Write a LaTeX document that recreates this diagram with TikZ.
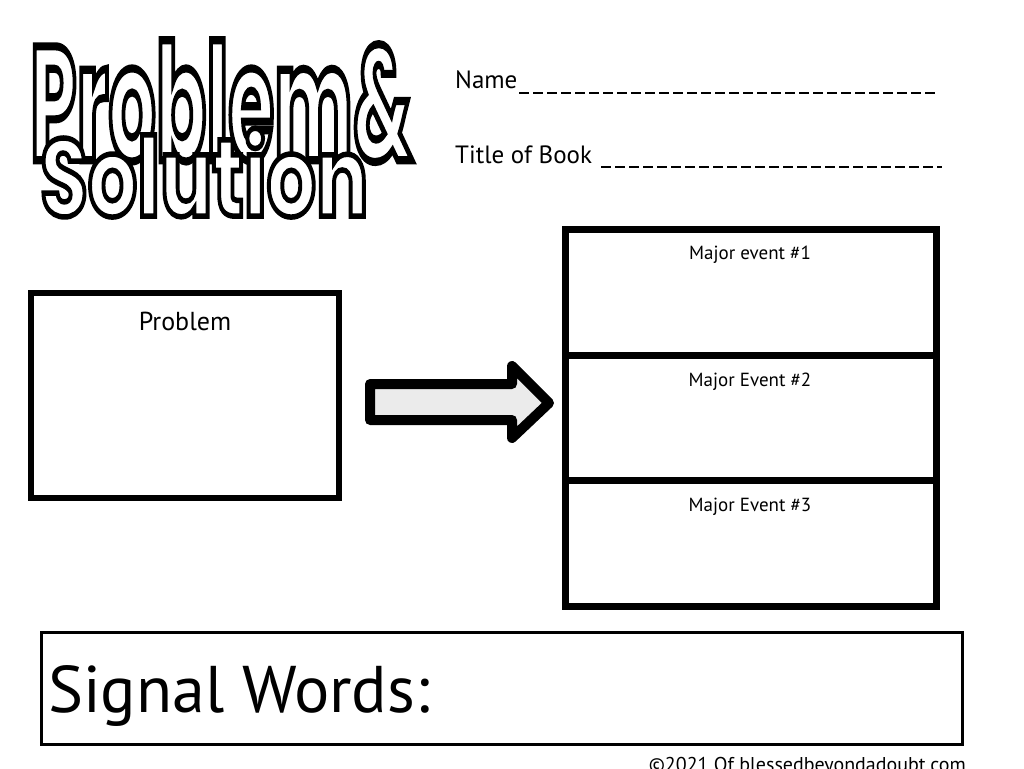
\documentclass[tikz,border=0pt]{standalone}
\usepackage{fontspec}
\setmainfont{PT Sans}
\newfontface\titlefont{Poppins}[UprightFont=* Bold, FakeBold=5]
\newcommand\outlinedtext[1]{{\color{white}\special{pdf:literal direct 0 G}#1}}
\tikzset{
  thickbox/.style={draw, line width=6pt, inner sep=0pt, outer sep=0pt, anchor=north west},
  eventbox/.style={draw, line width=7pt, inner sep=0pt, outer sep=0pt, anchor=north west, minimum width=371.5pt},
  lbl/.style={inner sep=0pt, anchor=base},
  dashline/.style={line width=2.6pt, dash pattern=on 10pt off 4pt},
}
\begin{document}
\begin{tikzpicture}[x=1pt,y=-1pt]
\useasboundingbox (0,0) rectangle (1024,768);
\clip (0,0) rectangle (1024,768);
% title
\node[inner sep=0pt, anchor=north west] (t1) at (30,40)
  {\resizebox{382pt}{120pt}{\fontsize{70}{80}\titlefont\outlinedtext{Problem\&}}};
\node[inner sep=0pt, anchor=north west] (t2) at (40,128)
  {\resizebox{328pt}{88pt}{\fontsize{70}{80}\titlefont\outlinedtext{Solution}}};
% name / title lines
\node[lbl, anchor=base west, font=\fontsize{25}{30}\selectfont] (name) at (455,88) {Name};
\coordinate (n1) at (519,93);
\coordinate (n2) at (935,93);
\draw[dashline] (n1) -- (n2);
\node[lbl, anchor=base west, font=\fontsize{25}{30}\selectfont] (book) at (455,163) {Title of Book};
\coordinate (b1) at (601,167);
\coordinate (b2) at (942,167);
\draw[dashline] (b1) -- (b2);
% problem box
\node[thickbox, minimum width=308pt, minimum height=205pt] (prob) at (31,293) {};
\node[lbl, font=\fontsize{26}{30}\selectfont] (problbl) at (185,330) {Problem};
% arrow
\draw[line width=10pt, line join=round, fill=black!8]
  (370,384) -- (512,384) -- (512,366) -- (549,403) -- (512,438) -- (512,420) -- (370,420) -- cycle;
% events
\node[eventbox, minimum height=126pt] (ev1) at (565,229) {};
\node[eventbox, minimum height=125pt] (ev2) at (565,355) {};
\node[eventbox, minimum height=126pt] (ev3) at (565,480) {};
\node[lbl, font=\fontsize{19}{23}\selectfont] (l1) at (750,259) {Major event \#1};
\node[lbl, font=\fontsize{19}{23}\selectfont] (l2) at (750,386) {Major Event \#2};
\node[lbl, font=\fontsize{19}{23}\selectfont] (l3) at (750,511) {Major Event \#3};
% signal words
\node[draw, line width=3pt, inner sep=0pt, outer sep=0pt, anchor=north west, minimum width=921pt, minimum height=112pt] (sig) at (41.5,632.5) {};
\node[lbl, anchor=base west, font=\fontsize{66}{70}\selectfont] (sigt) at (48,712) {Signal Words:};
% copyright
\node[lbl, anchor=base east, font=\fontsize{20}{24}\selectfont] (copy) at (966,771) {©2021 Of blessedbeyondadoubt.com};
\end{tikzpicture}
\end{document}
